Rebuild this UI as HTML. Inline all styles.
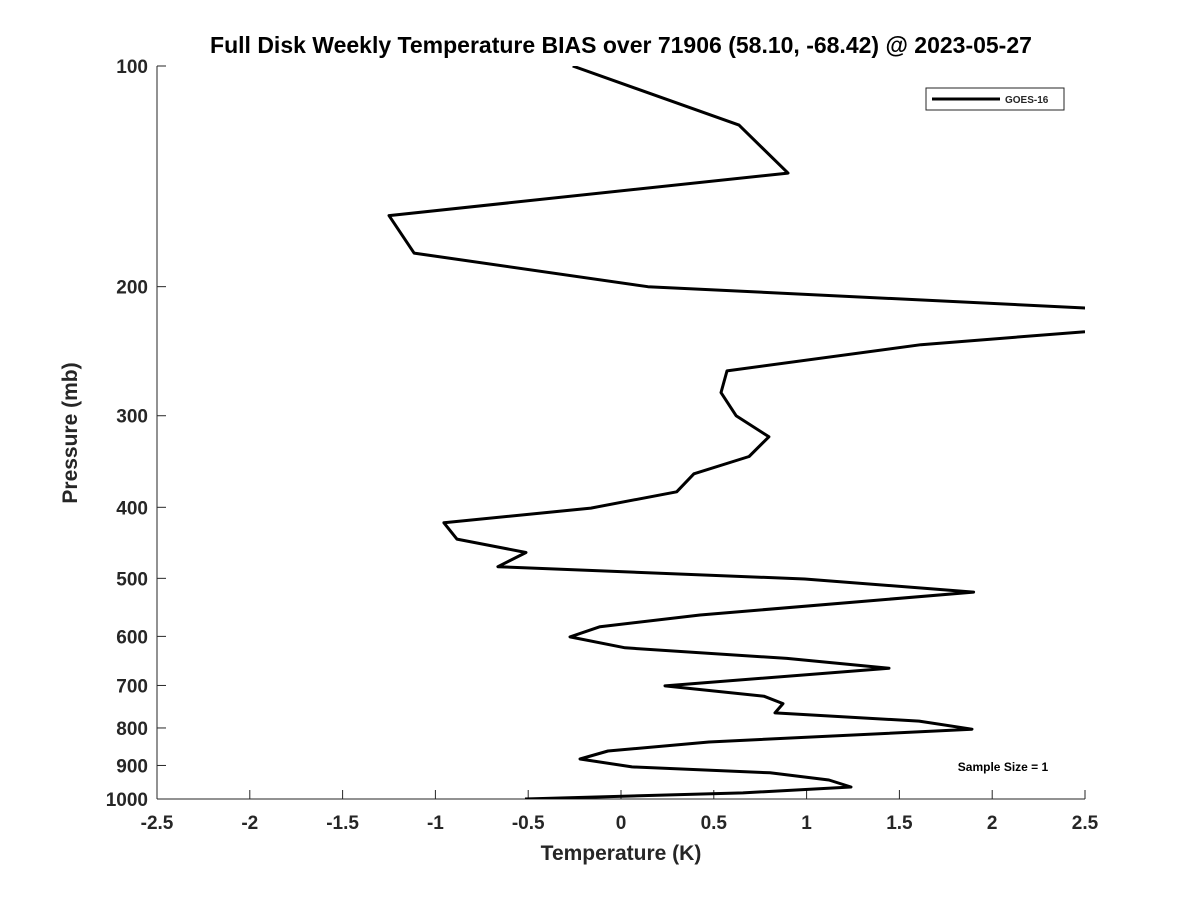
<!DOCTYPE html>
<html><head><meta charset="utf-8"><style>
body{margin:0;background:#fff;}
svg text{font-family:"Liberation Sans","DejaVu Sans",sans-serif;font-weight:bold;fill:#262626;}
</style></head><body>
<svg id="chart" width="1200" height="900" xmlns="http://www.w3.org/2000/svg">
<rect width="1200" height="900" fill="#fff"/>
<text x="621" y="53" font-size="23" text-anchor="middle" style="fill:#000">Full Disk Weekly Temperature BIAS over 71906 (58.10, -68.42) @ 2023-05-27</text>
<defs><clipPath id="plotclip"><rect x="157" y="66" width="928" height="733"/></clipPath></defs>
<g id="axes"></g>
<g id="series" clip-path="url(#plotclip)"></g>
<g>
<rect x="926" y="88" width="138" height="22" fill="#fff" stroke="#262626" stroke-width="1"/>
<line x1="932" y1="99" x2="1000" y2="99" stroke="#000" stroke-width="3"/>
<text x="1005" y="103" font-size="10">GOES-16</text>
</g>
<text x="1003" y="771" font-size="12" text-anchor="middle" style="fill:#000">Sample Size = 1</text>
<text x="621" y="860" font-size="21" text-anchor="middle">Temperature (K)</text>
<text transform="translate(77,433) rotate(-90)" font-size="21" text-anchor="middle">Pressure (mb)</text>
</svg>
<script>
const temps=[-0.26,0.636,0.90,-1.25,-1.115,0.145,3.5,1.616,0.571,0.539,0.62,0.797,0.69,0.393,0.30,-0.162,-0.954,-0.884,-0.512,-0.663,0.99,1.90,0.426,-0.113,-0.275,0.022,0.894,1.444,0.237,0.77,0.873,0.83,1.606,1.891,0.474,-0.07,-0.221,0.059,0.803,1.12,1.239,0.657,-0.517];
const pressures=[100,120.4,140,160,180,200,220,240,260.6,279,300,320.5,341,360,381,401,420,442,461,482,501,522,561,582,601,622,643,663,701,724,741,763,783,803,836,860,882,904,921,942,963,981,1000];
const xTicks=[-2.5,-2,-1.5,-1,-0.5,0,0.5,1,1.5,2,2.5];
const yTicks=[100,200,300,400,500,600,700,800,900,1000];
const X0=157,X1=1085,Y0=66,Y1=799;
const xs=t=>X0+(t+2.5)/5*(X1-X0);
const ys=p=>Y0+Math.log10(p/100)*(Y1-Y0);
const NS="http://www.w3.org/2000/svg";
const ax=document.getElementById('axes');
function mk(tag,attrs,parent){const e=document.createElementNS(NS,tag);for(const k in attrs)e.setAttribute(k,attrs[k]);parent.appendChild(e);return e;}
const xl=mk('line',{x1:X0,y1:Y1,x2:X1,y2:Y1,stroke:'#262626','stroke-width':1},ax);


const yl=mk('line',{x1:X0,y1:Y0,x2:X0,y2:Y1,stroke:'#262626','stroke-width':1},ax);


xTicks.forEach(t=>{const x=xs(t);
mk('line',{x1:x,y1:Y1,x2:x,y2:Y1-9,stroke:'#262626'},ax);
const tx=mk('text',{x:x,y:829,'font-size':19,'text-anchor':'middle'},ax);tx.textContent=String(t);

});
yTicks.forEach(p=>{const y=ys(p);
mk('line',{x1:X0,y1:y,x2:X0+9,y2:y,stroke:'#262626'},ax);
const tx=mk('text',{x:148,y:y+7,'font-size':19,'text-anchor':'end'},ax);tx.textContent=String(p);

});
const pts=temps.map((t,i)=>xs(t).toFixed(1)+','+ys(pressures[i]).toFixed(1)).join(' ');
const pl=mk('polyline',{points:pts,fill:'none',stroke:'#000','stroke-width':3,'stroke-linejoin':'round'},document.getElementById('series'));


</script>
</body></html>
